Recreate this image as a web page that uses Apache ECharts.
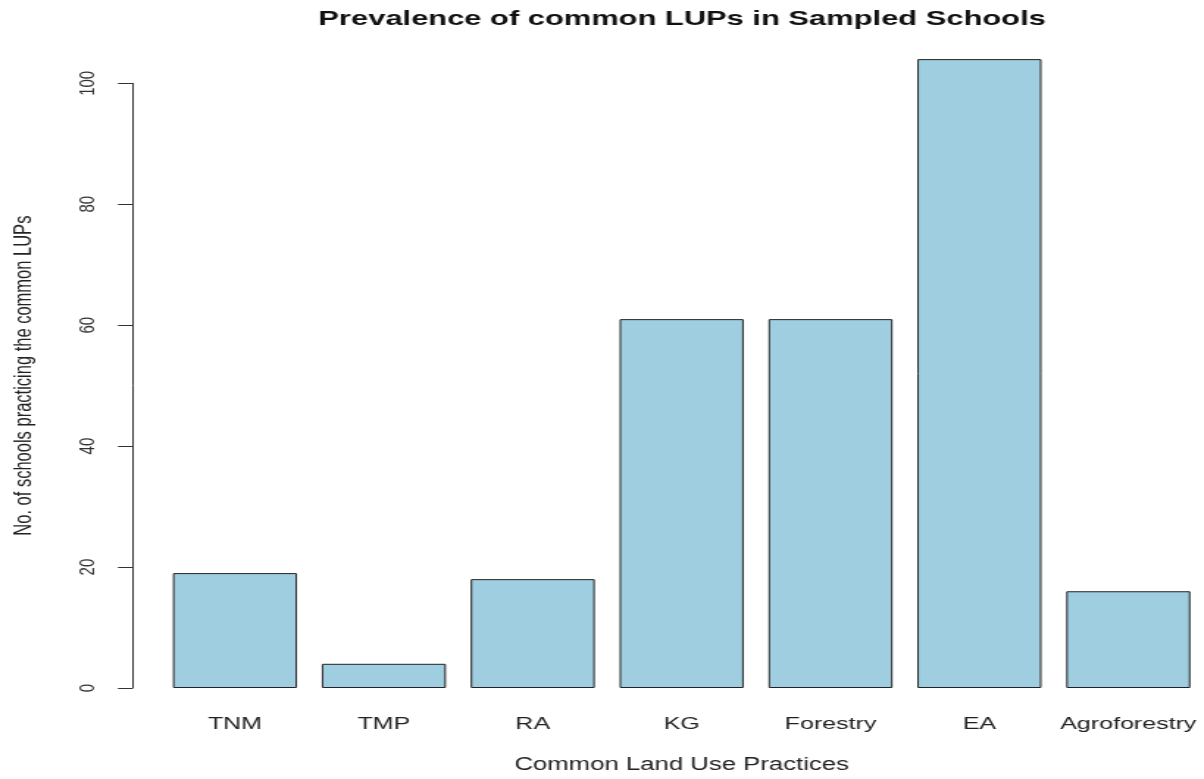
<!DOCTYPE html>
<html>
<head>
<meta charset="utf-8">
<script src="https://cdn.jsdelivr.net/npm/echarts@6/dist/echarts.min.js"></script>
<style>
html, body { margin: 0; padding: 0; background: #ffffff; overflow: hidden; }
#wrap { width: 1204px; height: 779px; overflow: hidden; position: relative; }
#chart { width: 819px; height: 779px; transform: scaleX(1.47); transform-origin: 0 0; }
</style>
</head>
<body>
<div id="wrap"><div id="chart"></div></div>
<script>
// ---- data ----
const categories = ['TNM', 'TMP', 'RA', 'KG', 'Forestry', 'EA', 'Agroforestry'];
const schoolCounts = [19, 4, 18, 61, 61, 104, 16];
const yAxisMin = 0;
const yAxisMax = 100;
const yAxisStep = 20;
const chartTitle = 'Prevalence of common LUPs in Sampled Schools';
const xAxisTitle = 'Common Land Use Practices';
const yAxisTitle = 'No. of schools practicing the common LUPs';

const FONT = '"Liberation Sans", Arial, Helvetica, sans-serif';
const chart = echarts.init(document.getElementById('chart'), null, { renderer: 'canvas' });

chart.setOption({
  animation: false,
  backgroundColor: '#ffffff',
  title: {
    text: chartTitle,
    left: 464,
    top: 9,
    padding: 0,
    textAlign: 'center',
    textStyle: { fontFamily: FONT, fontSize: 21, fontWeight: 'bold', color: '#111' }
  },
  grid: { left: 109.2, right: 0.8, top: 83.3, bottom: 86.3, containLabel: false },
  xAxis: {
    type: 'category',
    data: categories,
    axisLine: { show: false },
    axisTick: { show: false },
    axisLabel: { margin: 28, fontFamily: FONT, fontSize: 17, color: '#222', interval: 0 },
    splitLine: { show: false },
    name: xAxisTitle,
    nameLocation: 'middle',
    nameGap: 68,
    nameTextStyle: { fontFamily: FONT, fontSize: 17.5, color: '#222' }
  },
  yAxis: {
    type: 'value',
    min: yAxisMin,
    max: yAxisMax,
    interval: yAxisStep,
    offset: 19,
    axisLine: { show: true, lineStyle: { color: '#333', width: 1 } },
    axisTick: { show: true, length: 10, lineStyle: { color: '#333', width: 1 } },
    axisLabel: { rotate: 90, margin: 23, fontFamily: FONT, fontSize: 15, color: '#333' },
    splitLine: { show: false },
    name: yAxisTitle,
    nameLocation: 'middle',
    nameGap: 65,
    nameTextStyle: { fontFamily: FONT, fontSize: 16.5, color: '#222', padding: [0, 0, 0, 20] }
  },
  series: [{
    type: 'bar',
    data: schoolCounts,
    clip: false,
    barCategoryGap: '16.67%',
    itemStyle: { color: '#a0cee1', borderColor: '#222', borderWidth: 1 },
    emphasis: { disabled: true }
  }]
});
</script>
</body>
</html>
